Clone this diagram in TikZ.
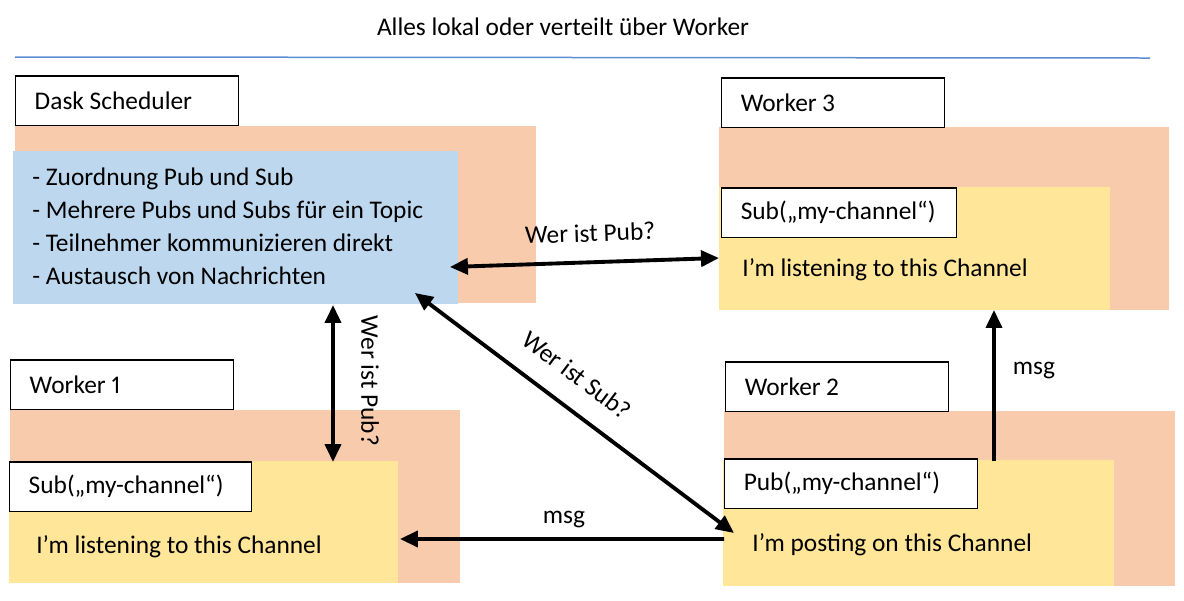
\documentclass[tikz,border=0pt]{standalone}
\usepackage{fontspec}
\setmainfont{Carlito}[Numbers=Proportional]
\usetikzlibrary{arrows.meta}

\definecolor{boxorange}{RGB}{248,203,173}
\definecolor{boxblue}{RGB}{189,215,238}
\definecolor{boxyellow}{RGB}{255,230,153}
\definecolor{rulecolor}{RGB}{91,142,209}

\begin{document}
\begin{tikzpicture}[
    x=0.02cm, y=-0.02cm,
    font=\fontsize{14.45}{18.6}\selectfont,
    area/.style={fill=#1, anchor=north west, inner sep=0pt, outer sep=0pt},
    namebox/.style={draw, fill=white, line width=0.85pt, anchor=north west, inner xsep=0.38cm, inner ysep=0pt, minimum height=1cm, text width=#1, align=left, execute at begin node={\spaceskip=0pt\xspaceskip=0pt\relax}},
    link/.style={{Triangle[length=0.36cm,width=0.32cm]}-{Triangle[length=0.36cm,width=0.32cm]}, line width=2.2pt},
    onelink/.style={-{Triangle[length=0.36cm,width=0.32cm]}, line width=2.2pt}
]
    \useasboundingbox (0,0) rectangle (1184,600);

    % Title and rule
    \node (title) at (563,27) {Alles lokal oder verteilt über Worker};
    \draw[rulecolor, line width=0.03cm] (15,57) -- (1150,58);

    % Dask Scheduler
    \node[area=boxorange, minimum width=10.42cm, minimum height=3.54cm] (schedBg) at (15,126) {};
    \node[area=boxblue, minimum width=8.90cm, minimum height=3.06cm] (schedCore) at (13,151) {};
    \node[namebox=3.70cm] (schedName) at (15,75) {Dask Scheduler};
    \node[anchor=base west, align=left, inner sep=0pt] (schedText) at (32,284) {- Zuordnung Pub und Sub\\- Mehrere Pubs und Subs für ein Topic\\- Teilnehmer kommunizieren direkt\\- Austausch von Nachrichten};

    % Worker 3
    \node[area=boxorange, minimum width=9.00cm, minimum height=3.66cm] (wThreeBg) at (719,127) {};
    \node[area=boxyellow, minimum width=7.82cm, minimum height=2.46cm] (wThreeCore) at (719,187) {};
    \node[namebox=3.70cm] (wThreeName) at (721,77) {Worker 3};
    \node[namebox=3.94cm] (wThreeSub) at (721,187) {Sub(„my-channel“)};
    \node[anchor=base west, inner sep=0pt] (wThreeText) at (742,276) {I’m listening to this Channel};

    % Worker 1
    \node[area=boxorange, minimum width=9.00cm, minimum height=3.46cm] (wOneBg) at (10,410) {};
    \node[area=boxyellow, minimum width=7.78cm, minimum height=2.44cm] (wOneCore) at (9,461) {};
    \node[namebox=3.70cm] (wOneName) at (10,359) {Worker 1};
    \node[namebox=4.08cm] (wOneSub) at (9,461) {Sub(„my-channel“)};
    \node[anchor=base west, inner sep=0pt] (wOneText) at (36,553) {I’m listening to this Channel};

    % Worker 2
    \node[area=boxorange, minimum width=9.02cm, minimum height=3.50cm] (wTwoBg) at (724,411) {};
    \node[area=boxyellow, minimum width=7.82cm, minimum height=2.52cm] (wTwoCore) at (723,460) {};
    \node[namebox=3.70cm] (wTwoName) at (725,361) {Worker 2};
    \node[namebox=4.30cm] (wTwoPub) at (724,458) {Pub(„my-channel“)};
    \node[anchor=base west, inner sep=0pt] (wTwoText) at (752,551) {I’m posting on this Channel};

    % Connectors
    \draw[link] ([shift={(-8,39.5)}]schedCore.east) -- ([shift={(0,9.5)}]wThreeCore.west);
    \draw[link] ([shift={(320,1)}]schedCore.south west) -- ([shift={(324,1)}]wOneCore.north west);
    \draw[link] ([shift={(-43,-11)}]schedCore.south east) -- ([shift={(11,10)}]wTwoCore.west);
    \draw[onelink] ([shift={(1,16)}]wTwoCore.west) -- ([shift={(2,17)}]wOneCore.east);
    \draw[onelink] ([shift={(271,1)}]wTwoCore.north west) -- ([shift={(275,0)}]wThreeCore.south west);

    % Connector labels
    \node[rotate=2] (askPubTop) at (590,233) {Wer ist Pub?};
    \node[rotate=-90] (askPubLeft) at (370,381) {Wer ist Pub?};
    \node[rotate=-37] (askSub) at (577,375) {Wer ist Sub?};
    \node (msgLeft) at (564,520) {msg};
    \node (msgUp) at (1034,371) {msg};
\end{tikzpicture}
\end{document}
